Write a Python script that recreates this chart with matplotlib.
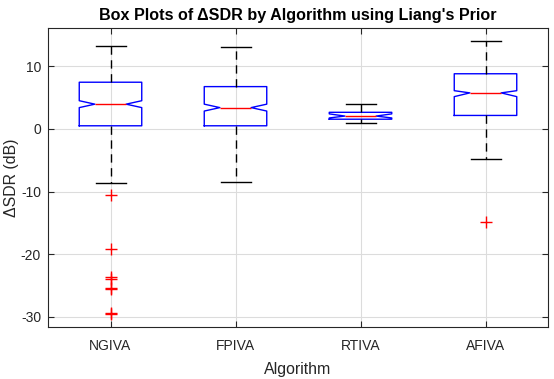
import matplotlib
matplotlib.use("Agg")
import matplotlib.pyplot as plt

# values (dB)
algorithms = ["NGIVA", "FPIVA", "RTIVA", "AFIVA"]
q1 = [0.5, 0.5, 1.55, 2.15]
medians = [3.95, 3.4, 2.05, 5.75]
q3 = [7.45, 6.75, 2.65, 8.8]
whisker_lo = [-8.65, -8.45, 0.9, -4.85]
whisker_hi = [13.3, 13.1, 3.95, 14.0]
notch_lo = [3.4, 2.85, 1.75, 5.15]
notch_hi = [4.5, 3.95, 2.4, 6.1]
outliers = [
    [-10.6, -19.2, -23.6, -24.0, -25.4, -25.6, -29.4, -29.6],
    [],
    [],
    [-14.9],
]

stats = []
for i, name in enumerate(algorithms):
    stats.append(dict(label=name, q1=q1[i], med=medians[i], q3=q3[i],
                      whislo=whisker_lo[i], whishi=whisker_hi[i],
                      cilo=notch_lo[i], cihi=notch_hi[i],
                      fliers=outliers[i]))

plt.rcParams['font.family'] = ['Liberation Sans', 'DejaVu Sans']
plt.rcParams['axes.unicode_minus'] = False
txt = '#262626'

fig = plt.figure(figsize=(5.54, 3.79), dpi=100)
ax = fig.add_axes([48 / 554, 1 - 327 / 379, 500 / 554, 299 / 379])

ax.bxp(stats, positions=[1, 2, 3, 4], widths=0.5, shownotches=True,
       boxprops=dict(color='#0000ff', linewidth=1.0),
       medianprops=dict(color='#ff0000', linewidth=1.0),
       whiskerprops=dict(color='black', linestyle=(0, (6, 4)), linewidth=1.0),
       capprops=dict(color='black', linewidth=1.0),
       flierprops=dict(marker='+', markeredgecolor='#ff0000', markersize=8,
                       markeredgewidth=1.0, linestyle='none'),
       capwidths=0.24)

ax.set_xlim(0.5, 4.5)
ax.set_ylim(-31.6, 16.1)
ax.set_yticks([-30, -20, -10, 0, 10])
ax.set_xticks([1, 2, 3, 4])
ax.set_xticklabels(algorithms)
ax.grid(True, color='#dcdcdc', linewidth=0.8)
ax.set_axisbelow(True)
ax.tick_params(direction='in', top=True, right=True, labelsize=10,
               colors=txt, length=4, width=0.8)
ax.tick_params(axis='x', pad=9)
ax.tick_params(axis='y', pad=5)
for s in ax.spines.values():
    s.set_color(txt)
    s.set_linewidth(0.8)

ax.set_title("Box Plots of ΔSDR by Algorithm using Liang's Prior",
             fontsize=11.6, fontweight='bold', color='black', pad=6)
ax.set_xlabel("Algorithm", fontsize=11.4, color=txt, labelpad=6)
ax.set_ylabel("ΔSDR (dB)", fontsize=11.4, color=txt, labelpad=1)

fig.savefig("out.png", dpi=100)
